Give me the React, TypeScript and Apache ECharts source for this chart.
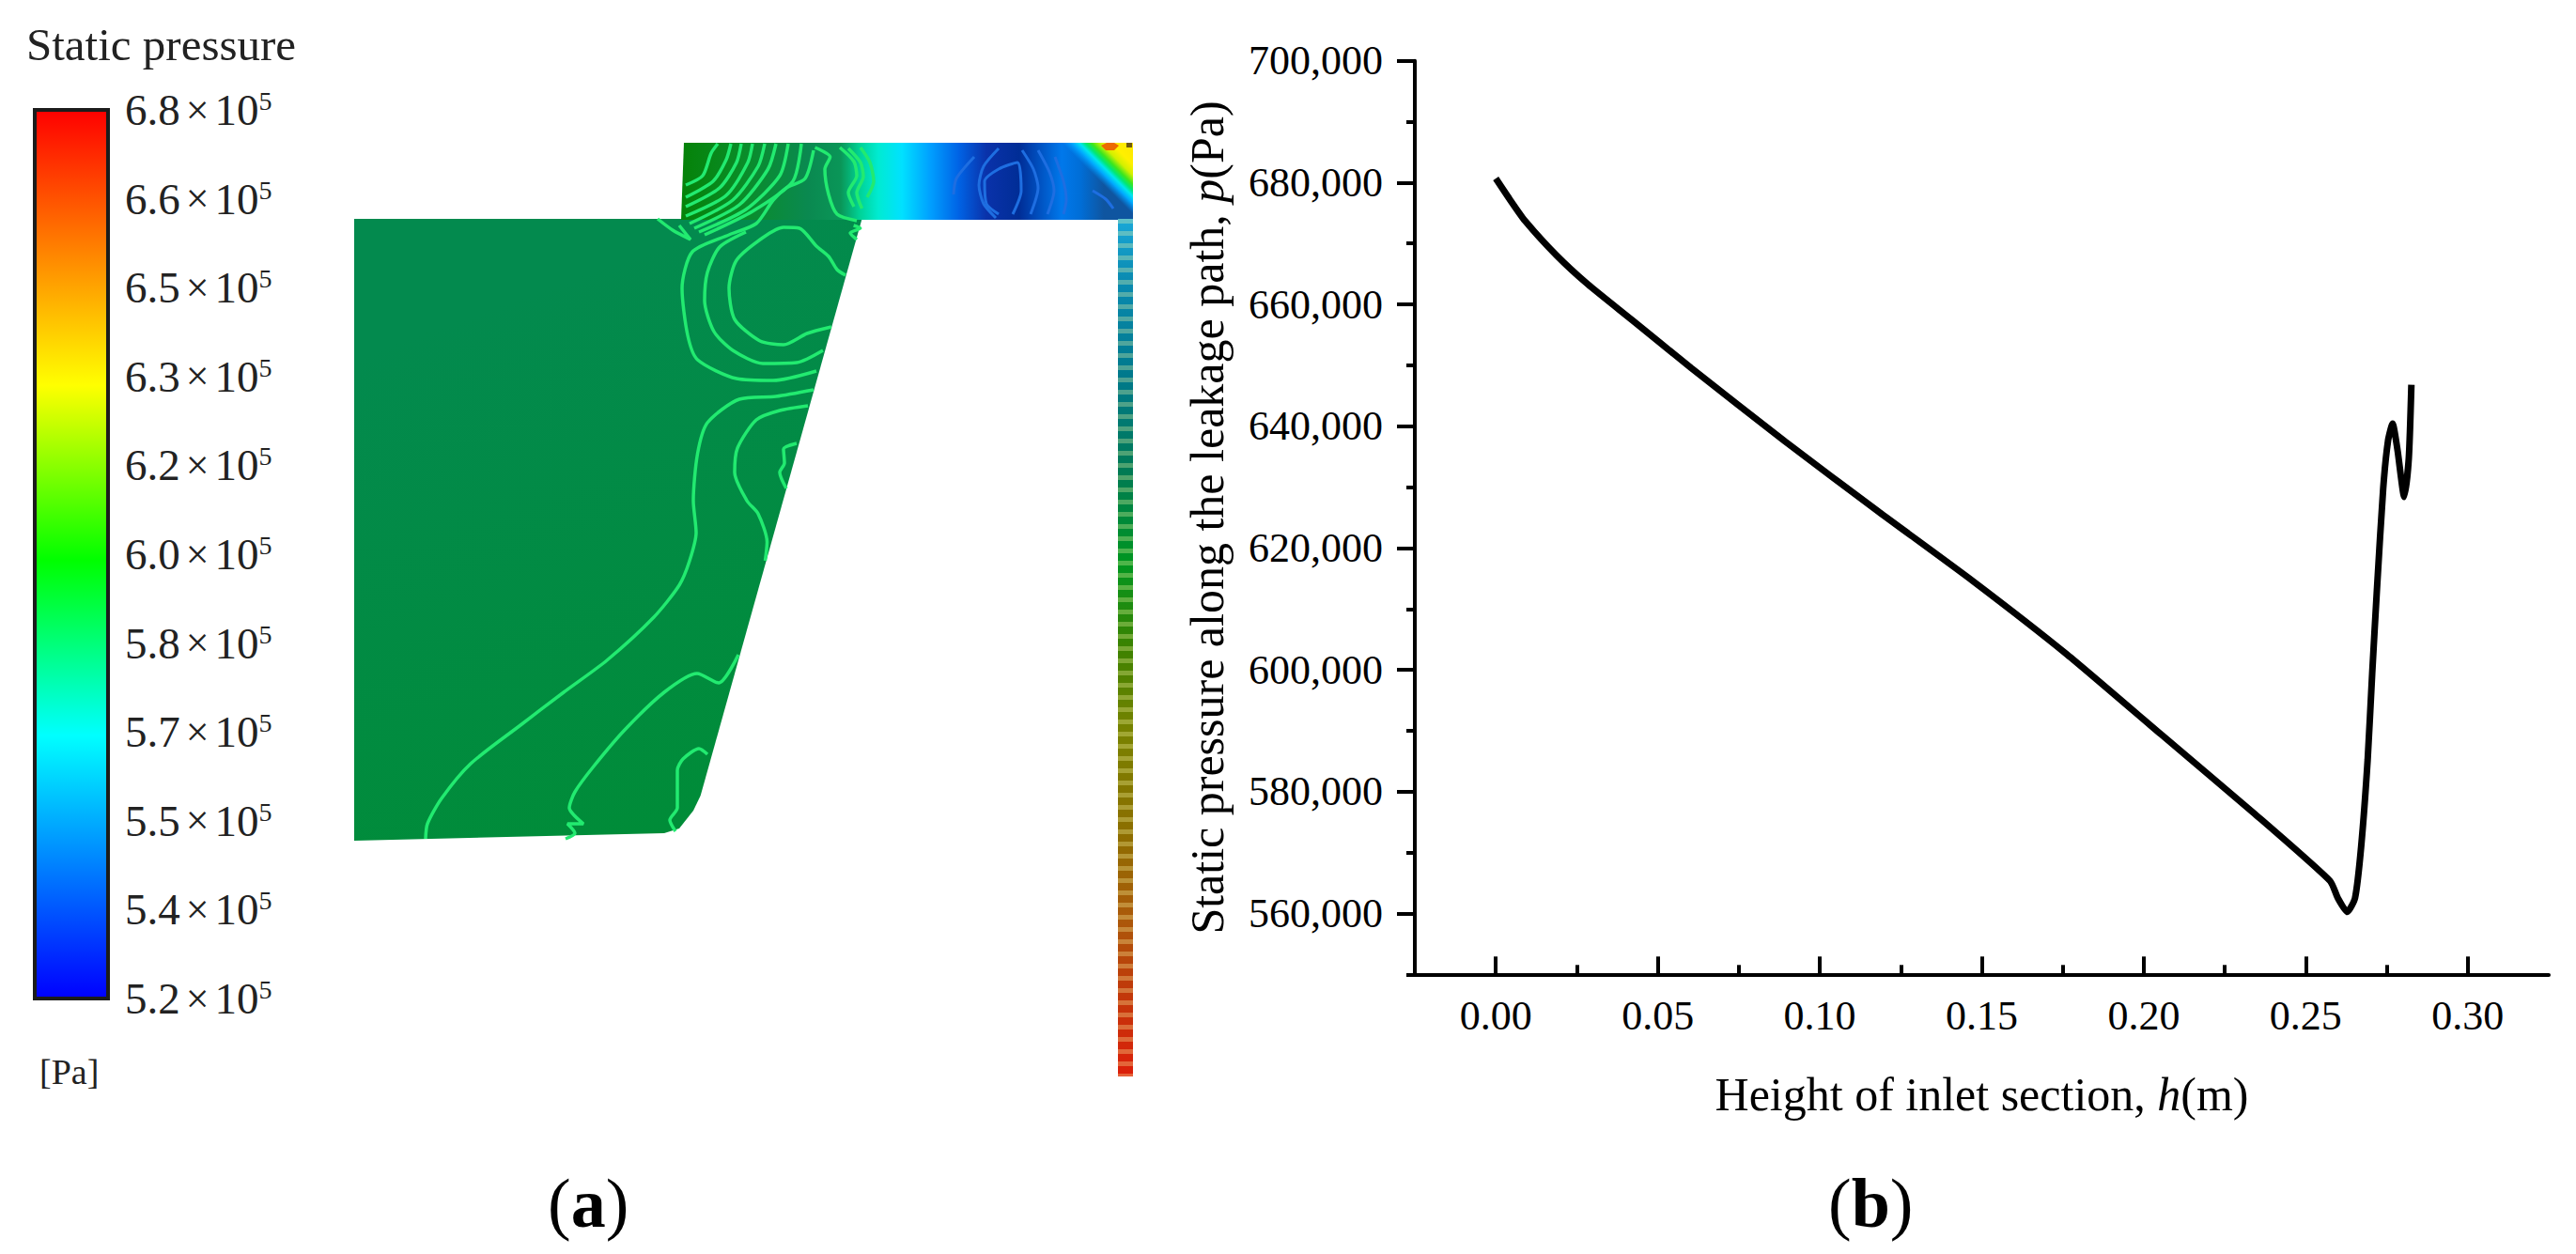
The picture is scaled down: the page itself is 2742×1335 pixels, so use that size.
import React, { useEffect, useRef } from "react";
import * as echarts from "echarts";

const SERIF = "Liberation Serif";

// ---------- panel (b): static pressure along the leakage path ----------
const heightMajorTicks = [0, 0.05, 0.1, 0.15, 0.2, 0.25, 0.3];
const heightMinorTicks = [0.025, 0.075, 0.125, 0.175, 0.225, 0.275];
const pressureMajorTicks = [560000, 580000, 600000, 620000, 640000, 660000, 680000, 700000];
const pressureMinorTicks = [550000, 570000, 590000, 610000, 630000, 650000, 670000, 690000];
const leakagePath = [
  [0.0, 680670], [0.0042, 677325], [0.009, 673730], [0.0187, 668070], [0.0284, 663300],
  [0.0419, 657500], [0.0603, 649560], [0.0893, 637480], [0.1183, 625910],
  [0.1473, 614560], [0.1763, 602530], [0.2053, 589420], [0.2343, 576320], [0.2575, 565340],
  [0.2599, 562520], [0.2628, 560250], [0.2652, 562520], [0.2671, 571000], [0.2691, 585200],
  [0.2705, 599400], [0.272, 613500], [0.2739, 629770], [0.2754, 637640], [0.2768, 640410],
  [0.2783, 636150], [0.2804, 628380], [0.2818, 634750], [0.2826, 646800],
];

// ---------- panel (a): colour legend ----------
const legendLabels = ["5.2", "5.4", "5.5", "5.7", "5.8", "6.0", "6.2", "6.3", "6.5", "6.6", "6.8"];
const legendStops: [number, string][] = [
  [0, "#ff0000"], [0.31, "#ffff00"], [0.507, "#00ff00"], [0.704, "#00ffff"], [1, "#0000ff"],
];

// ---------- panel (a): flow field outlines, in image-plane units ----------
const bodyOutline = [
  [377, 233], [917.5, 233], [745.7, 847], [738, 863], [723, 882], [707, 887], [377, 895],
];
const channelOutline = [[728, 152], [1206, 152], [1206, 234], [725, 234]];
const cornerOutline = [[1125, 152], [1206, 152], [1206, 234], [1207, 234]];
const tubeOutline = [[1190, 233], [1206, 233], [1206, 1146], [1190, 1146]];
const hotSpotOutline = [[1172, 155], [1178, 152], [1186, 152], [1191, 155], [1186, 160], [1177, 160]];
const darkSpotOutline = [[1199, 152], [1205, 152], [1205, 157], [1199, 157]];
const tubeStripes = [[1198, 233], [1198, 1146]];

const channelColours: [number, string][] = [
  [725, "#058208"], [790, "#0a8c28"], [860, "#0a8950"], [895, "#0a9658"], [915, "#00d296"],
  [935, "#00ebd2"], [960, "#00e1ff"], [990, "#00a0ff"], [1020, "#0064e6"], [1050, "#0a32aa"],
  [1085, "#002d96"], [1100, "#0046b4"], [1130, "#0078eb"], [1150, "#006ed7"], [1175, "#0f55a0"],
  [1206, "#0f55a0"],
];
const cornerColours: [number, string][] = [
  [0, "rgba(0,150,255,0)"], [0.15, "#00aaff"], [0.25, "#00e6f0"], [0.33, "#00e678"],
  [0.42, "#3ce61e"], [0.55, "#d2f000"], [0.7, "#fff000"], [1, "#ffe600"],
];
const tubeColours: [number, string][] = [
  [233, "#1aa8d8"], [300, "#0a8ab0"], [400, "#00798c"], [500, "#007a55"], [600, "#009620"],
  [689, "#3c8200"], [778, "#788200"], [886, "#8c6e00"], [975, "#aa5a0a"], [1046, "#be3c0a"],
  [1146, "#dc1e0a"],
];
const bodyColours: [number, string][] = [[0, "#038a4e"], [1, "#008c38"]];

const greenContours = [
  [[730, 197], [748, 187], [757, 163], [764, 153]],
  [[730, 210], [759, 193], [773, 170], [778, 153]],
  [[730, 220], [766, 200], [784, 173], [789, 153]],
  [[730, 230], [773, 208], [796, 173], [801, 153]],
  [[734, 238], [780, 213], [807, 177], [814, 153]],
  [[739, 243], [787, 218], [817.5, 180], [826, 153]],
  [[744, 247], [794, 223], [830, 187], [839, 153]],
  [[750, 250], [801, 225], [844, 193], [853, 153]],
  [[866, 160], [857, 190], [837, 200], [823, 213], [805, 238], [776, 250], [737, 268], [726, 307], [732, 357], [742.5, 383], [784, 403], [823, 405], [869, 395]],
  [[794, 247], [766, 263], [753, 290], [750, 320], [760, 353], [780, 373], [812, 387], [848, 386], [876, 373]],
  [[900, 293], [891, 287], [882, 273], [869, 262], [851, 243], [834, 242], [812, 253], [784, 277], [776, 307], [782, 340], [809, 363], [834, 367], [859, 355], [885, 348]],
  [[866, 415], [826, 422], [787, 425], [753, 450], [742.5, 483], [738, 533], [741, 567], [734, 597], [723, 623], [696, 657], [646, 703], [600, 737], [554, 772], [501, 813], [470, 850], [455, 877], [453, 893]],
  [[860, 432], [830, 437], [805, 447], [785, 477], [782, 503], [795, 533], [807, 547], [816.5, 577], [814.5, 597]],
  [[848, 472], [834, 478], [835, 493], [830, 503], [837, 520]],
  [[786, 697], [765, 727], [742, 717], [707, 737], [665, 777], [631, 817], [612, 843], [606, 860], [621, 877], [604, 877], [612, 887], [602, 893]],
  [[753, 803], [744, 797], [727, 808], [721, 820], [721, 860], [713, 873], [719, 885]],
  [[700, 233], [716, 245], [735, 255], [723, 240]],
  [[867.5, 157], [883.6, 167], [878, 180], [882, 207], [891, 228], [912, 235]],
  [[894, 157], [909, 172], [912, 187], [903, 205], [909, 220]],
  [[903, 158], [916, 173], [919, 188], [912, 205], [917.5, 222]],
  [[916, 157], [926, 173], [930, 193], [923, 210]],
  [[908.6, 240], [915.7, 243], [905, 248], [912, 255]],
];
const blueContours = [
  [[1078, 228], [1087, 203], [1083, 173], [1063, 180], [1048, 193], [1050, 217], [1063, 228]],
  [[1063, 158], [1047, 177], [1042, 197], [1047, 217], [1060, 232]],
  [[1088, 160], [1100, 180], [1105, 200], [1097, 228]],
  [[1105, 160], [1117, 183], [1122, 203], [1115, 228]],
  [[1123, 167], [1132, 193], [1135, 213], [1132, 228]],
  [[1163, 203], [1177, 212], [1185, 222]],
  [[1037, 167], [1018, 190], [1015, 207]],
];

const stopsAlong = (list: [number, string][], from: number, to: number) =>
  list.map(([at, color]) => ({ offset: (at - from) / (to - from), color }));
const stopsOf = (list: [number, string][]) => list.map(([offset, color]) => ({ offset, color }));

const fieldRegions = [
  { points: bodyOutline, fill: () => new echarts.graphic.LinearGradient(600, 300, 800, 850, stopsOf(bodyColours), true) },
  { points: channelOutline, fill: () => new echarts.graphic.LinearGradient(725, 0, 1206, 0, stopsAlong(channelColours, 725, 1206), true) },
  { points: cornerOutline, fill: () => new echarts.graphic.LinearGradient(1130, 152, 1167.5, 114.5, stopsOf(cornerColours), true) },
  { points: hotSpotOutline, fill: () => "#ec6a00" },
  { points: darkSpotOutline, fill: () => "#6e5a10" },
  { points: tubeOutline, fill: () => new echarts.graphic.LinearGradient(0, 233, 0, 1146, stopsAlong(tubeColours, 233, 1146), true) },
];

const fieldLine = (data: number[][], color: string, width: number) => ({
  type: "line",
  xAxisIndex: 3,
  yAxisIndex: 3,
  data,
  symbol: "none",
  smooth: 0.25,
  silent: true,
  clip: false,
  z: 4,
  lineStyle: { color, width },
});

function buildOption(): any {
  const hidden = (gridIndex: number, min: number, max: number, extra = {}) => ({
    type: "value", gridIndex, min, max, show: false, ...extra,
  });
  const tickStyle = { color: "#000", width: 4 };
  return {
    animation: false,
    backgroundColor: "#fff",
    grid: [
      { left: 1506, top: 64.7, width: 1207, height: 972.6, containLabel: false },
      { left: 37, top: 117, width: 78, height: 946 },
      { left: 0, top: 0, width: 2742, height: 1335 },
    ],
    xAxis: [
      {
        type: "value", gridIndex: 0, min: -0.025, max: 0.325, position: "bottom",
        name: "{n|Height of inlet section, }{i|h}{n|(m)}", nameLocation: "middle", nameGap: 103,
        nameTextStyle: {
          rich: {
            n: { fontFamily: SERIF, fontSize: 50, color: "#000" },
            i: { fontFamily: SERIF, fontSize: 50, fontStyle: "italic", color: "#000" },
          },
        },
        splitLine: { show: false },
        axisLine: { show: true, onZero: false, lineStyle: { color: "#000", width: 4 } },
        axisTick: { show: true, inside: true, length: 19, customValues: heightMajorTicks, lineStyle: tickStyle },
        axisLabel: {
          show: true, margin: 22, customValues: heightMajorTicks, fontFamily: SERIF, fontSize: 44, color: "#000",
          formatter: (v: number) => v.toFixed(2),
        },
      },
      {
        type: "value", gridIndex: 0, min: -0.025, max: 0.325, position: "bottom",
        splitLine: { show: false },
        axisLine: { show: false, onZero: false },
        axisLabel: { show: false },
        axisTick: { show: true, inside: true, length: 10, customValues: heightMinorTicks, lineStyle: tickStyle },
      },
      hidden(1, 0, 1),
      hidden(2, 0, 2742),
    ],
    yAxis: [
      {
        type: "value", gridIndex: 0, min: 550000, max: 700000, position: "left",
        name: "{n|Static pressure along the leakage path, }{i|p}{n|(Pa)}", nameLocation: "middle", nameRotate: 90, nameGap: 196,
        nameTextStyle: {
          rich: {
            n: { fontFamily: SERIF, fontSize: 50, color: "#000" },
            i: { fontFamily: SERIF, fontSize: 50, fontStyle: "italic", color: "#000" },
          },
        },
        splitLine: { show: false },
        axisLine: { show: true, onZero: false, lineStyle: { color: "#000", width: 4 } },
        axisTick: { show: true, length: 19, customValues: pressureMajorTicks, lineStyle: tickStyle },
        axisLabel: {
          show: true, margin: 34, customValues: pressureMajorTicks, fontFamily: SERIF, fontSize: 44, color: "#000",
          formatter: (v: number) => v.toLocaleString("en-US"),
        },
      },
      {
        type: "value", gridIndex: 0, min: 550000, max: 700000, position: "left",
        splitLine: { show: false },
        axisLine: { show: false, onZero: false },
        axisLabel: { show: false },
        axisTick: { show: true, length: 9, customValues: pressureMinorTicks, lineStyle: tickStyle },
      },
      {
        type: "category", gridIndex: 1, data: legendLabels, boundaryGap: false, position: "right",
        axisLine: { show: false },
        axisTick: { show: true, alignWithLabel: true, length: 10, lineStyle: { color: "#222", width: 3 } },
        axisLabel: {
          show: true, margin: 18, interval: 0,
          formatter: (v: string) => `{b|${v}}{x|×}{b|10}{s|5}`,
          rich: {
            b: { fontFamily: SERIF, fontSize: 47, color: "#222" },
            x: { fontFamily: SERIF, fontSize: 44, color: "#222", padding: [0, 6, 0, 6] },
            s: { fontFamily: SERIF, fontSize: 28, color: "#222", verticalAlign: "top" },
          },
        },
      },
      hidden(2, 0, 1335, { inverse: true }),
    ],
    series: [
      {
        type: "custom",
        xAxisIndex: 3,
        yAxisIndex: 3,
        clip: false,
        silent: true,
        z: 2,
        data: fieldRegions.map((r) => r.points[0]),
        renderItem: (params: any, api: any) => {
          const region = fieldRegions[params.dataIndex];
          return {
            type: "polygon",
            shape: { points: region.points.map((p) => api.coord(p)) },
            style: { fill: region.fill() },
          };
        },
      },
      {
        type: "line", xAxisIndex: 3, yAxisIndex: 3, data: tubeStripes, symbol: "none", silent: true, clip: false, z: 3,
        lineStyle: { color: "rgba(255,255,170,0.3)", width: 16, type: [5, 8] },
      },
      ...blueContours.map((c) => fieldLine(c, "#1e6ee1", 3)),
      ...greenContours.map((c) => fieldLine(c, "#22ea70", 3.5)),
      {
        type: "custom",
        xAxisIndex: 2,
        yAxisIndex: 2,
        silent: true,
        z: 2,
        data: [[0, legendLabels[0]]],
        renderItem: (params: any) => {
          const c = params.coordSys;
          return {
            type: "rect",
            shape: { x: c.x, y: c.y, width: c.width, height: c.height },
            style: {
              fill: new echarts.graphic.LinearGradient(0, 0, 0, 1, stopsOf(legendStops)),
              stroke: "#1c1c1c",
              lineWidth: 4,
            },
          };
        },
      },
      {
        type: "line",
        xAxisIndex: 0,
        yAxisIndex: 0,
        data: leakagePath,
        symbol: "none",
        smooth: 0.2,
        silent: true,
        z: 5,
        lineStyle: { color: "#000", width: 7, cap: "butt" },
      },
    ],
    graphic: [
      {
        type: "text", x: 28, y: 47,
        style: { text: "Static pressure", fontFamily: SERIF, fontSize: 49, fill: "#222", verticalAlign: "middle" },
      },
      {
        type: "text", x: 42, y: 1141,
        style: { text: "[Pa]", fontFamily: SERIF, fontSize: 38, fill: "#222", verticalAlign: "middle" },
      },
      {
        type: "text", x: 583, y: 1281,
        style: {
          text: "{p|(}{b|a}{p|)}", verticalAlign: "middle",
          rich: {
            p: { fontFamily: SERIF, fontSize: 74, fill: "#000" },
            b: { fontFamily: SERIF, fontSize: 74, fontWeight: "bold", fill: "#000" },
          },
        },
      },
      {
        type: "text", x: 1946, y: 1281,
        style: {
          text: "{p|(}{b|b}{p|)}", verticalAlign: "middle",
          rich: {
            p: { fontFamily: SERIF, fontSize: 74, fill: "#000" },
            b: { fontFamily: SERIF, fontSize: 74, fontWeight: "bold", fill: "#000" },
          },
        },
      },
    ],
  };
}

export default function App() {
  const ref = useRef<HTMLDivElement>(null);
  useEffect(() => {
    const chart = echarts.init(ref.current!, undefined, { renderer: "svg" });
    chart.setOption(buildOption());
    return () => chart.dispose();
  }, []);
  return <div ref={ref} style={{ position: "absolute", left: 0, top: 0, width: 2742, height: 1335 }} />;
}
